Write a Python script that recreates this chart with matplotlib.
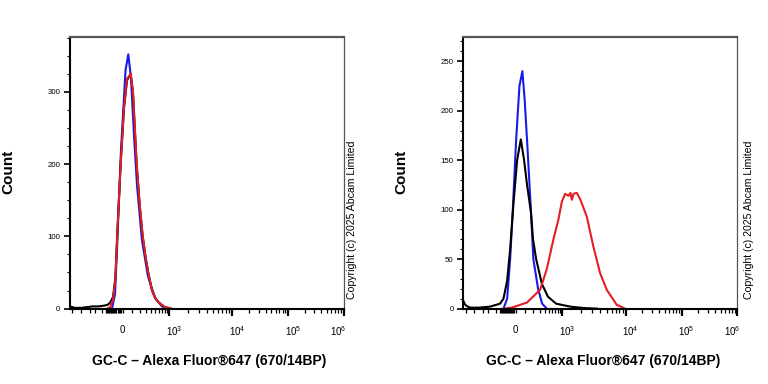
import numpy as np
import matplotlib
matplotlib.use("Agg")
import matplotlib.pyplot as plt
from matplotlib.ticker import FixedLocator, MultipleLocator
from matplotlib.transforms import ScaledTranslation

plt.rcParams['font.family'] = ['Liberation Sans', 'DejaVu Sans']
plt.rcParams['mathtext.fontset'] = 'custom'
plt.rcParams['mathtext.rm'] = 'Liberation Sans'
plt.rcParams['mathtext.it'] = 'Liberation Sans'

# ---- data (fluorescence intensity vs count) ----
# left panel
left_blue_x = [-92, -63, -40, -9, 35, 63, 91, 125, 162, 229, 330, 486, 700, 948]
left_blue_y = [0, 20, 100, 220, 330, 352, 320, 240, 170, 95, 45, 15, 3, 0]
left_black_x = [-1000, -800, -600, -450, -350, -250, -180, -140, -111, -82, -60, -40, -12,
                20, 50, 88, 113, 157, 200, 241, 290, 336, 414, 500, 600, 815, 1080]
left_black_y = [3, 1, 1, 2, 3, 3, 4, 5, 8, 16, 42, 112, 200,
                278, 316, 325, 300, 200, 140, 100, 70, 50, 25, 14, 8, 2, 0]
left_red_x = [-140, -111, -82, -60, -40, -12, 20, 50, 88, 113, 157, 200, 241, 290, 336,
              414, 500, 600, 815, 1080]
left_red_y = [0, 2, 12, 40, 110, 200, 280, 318, 325, 300, 200, 140, 100, 70, 50,
              25, 14, 8, 2, 0]

# right panel
right_blue_x = [-111, -75, -47, -23, 7, 40, 70, 95, 121, 167, 200, 272, 345, 446]
right_blue_y = [0, 10, 50, 100, 170, 225, 240, 210, 170, 100, 50, 20, 5, 0]
right_black_x = [-1000, -950, -880, -740, -480, -275, -147, -111, -75, -47, -18, 17, 54,
                 88, 121, 167, 196, 241, 340, 475, 725, 1330, 2280, 3500]
right_black_y = [8, 5, 3, 1, 1, 2, 5, 10, 28, 60, 105, 150, 171,
                 150, 125, 98, 70, 50, 25, 12, 5, 2, 0.5, 0]
right_red_x = [-100, -32, 118, 307, 446, 632, 815, 968, 1104, 1248, 1340, 1412, 1500,
               1690, 1906, 2440, 3090, 3950, 5040, 7220, 9770]
right_red_y = [0, 1, 6, 19, 40, 70, 90, 108, 116, 114, 117, 110, 116,
               117, 111, 93, 63, 36, 19, 4, 0]

decade_ticks = [0, 1e3, 1e4, 1e5, 1e6]
decade_labels = ['0', r'$10^{3}$', r'$10^{4}$', r'$10^{5}$', r'$10^{6}$']

xlabel = "GC-C \u2013 Alexa Fluor\u00ae647 (670/14BP)"
copyright_txt = "Copyright (c) 2025 Abcam Limited"

# ---- biexponential-like display scale ----
ANCH = np.array([-1e5, -1000, 0, 1000, 1e4, 1e5, 1e6, 1e9])
POS = np.array([-103, 0, 52, 99, 162, 218, 273.5, 440])
G = np.arcsinh(ANCH / 200.0)


def fwd(x):
    return np.interp(np.arcsinh(np.asarray(x, dtype=float) / 200.0), G, POS)


def inv(p):
    return 200.0 * np.sinh(np.interp(np.asarray(p, dtype=float), POS, G))


fig = plt.figure(figsize=(7.68, 3.84), dpi=100)
ax1 = fig.add_axes([70 / 768, 1 - 309.3 / 384, 273.5 / 768, 272.3 / 384])
ax2 = fig.add_axes([463.3 / 768, 1 - 309.3 / 384, 274 / 768, 272.3 / 384])

BLUE, RED = '#1a1ae6', '#e31e24'

ax1.plot(left_blue_x, left_blue_y, color=BLUE, lw=1.5)
ax1.plot(left_black_x, left_black_y, color='black', lw=1.5)
ax1.plot(left_red_x, left_red_y, color=RED, lw=1.5)
ax1.set_ylim(-1, 376)
ax1.yaxis.set_major_locator(MultipleLocator(100))
ax1.yaxis.set_minor_locator(MultipleLocator(25))

ax2.plot(right_blue_x, right_blue_y, color=BLUE, lw=1.5)
ax2.plot(right_black_x, right_black_y, color='black', lw=1.5)
ax2.plot(right_red_x, right_red_y, color=RED, lw=1.5)
ax2.set_ylim(-0.7, 274.5)
ax2.yaxis.set_major_locator(MultipleLocator(50))
ax2.yaxis.set_minor_locator(MultipleLocator(10))

minor_x = ([-900, -600, -400, -300, -200] + list(range(-150, 11, 10)) +
           [100, 200, 300, 400, 500, 600, 700, 800, 900])
for d in [1e3, 1e4, 1e5]:
    minor_x += [d * k for k in range(2, 10)]

for ax, cx in [(ax1, 352), (ax2, 749)]:
    ax.set_xscale('function', functions=(fwd, inv))
    ax.set_xlim(-1000, 1e6)
    ax.xaxis.set_major_locator(FixedLocator(decade_ticks))
    ax.xaxis.set_minor_locator(FixedLocator(minor_x))
    ax.set_xticklabels(decade_labels)
    ax.tick_params(axis='x', which='major', direction='out', length=5, width=1.6,
                   labelsize=7, pad=6)
    ax.tick_params(axis='x', which='minor', direction='out', length=3, width=0.9)
    ax.tick_params(axis='y', which='major', direction='out', length=4, width=1.2,
                   labelsize=5.7, pad=3)
    ax.tick_params(axis='y', which='minor', direction='out', length=2.5, width=0.8)
    ax.xaxis.get_major_ticks()[0].tick1line.set_visible(False)
    for i, lab in enumerate(ax.get_xticklabels()):
        if i == 0:
            continue
        dx = -5 if i == 4 else 5
        lab.set_transform(lab.get_transform() + ScaledTranslation(dx / 100, 0, fig.dpi_scale_trans))
    for s in ['left', 'bottom']:
        ax.spines[s].set_linewidth(1.5)
        ax.spines[s].set_color('black')
    ax.spines['top'].set_color('#555555')
    ax.spines['top'].set_linewidth(1.6)
    ax.spines['right'].set_color('#555555')
    ax.spines['right'].set_linewidth(0.9)
    fig.text(cx / 768, 1 - 220 / 384, copyright_txt, rotation=90, fontsize=7.6,
             ha='center', va='center')

fig.text(8 / 768, 1 - 172 / 384, "Count", rotation=90, fontsize=11, fontweight='bold',
         ha='center', va='center')
fig.text(401 / 768, 1 - 172 / 384, "Count", rotation=90, fontsize=11, fontweight='bold',
         ha='center', va='center')
fig.text(209 / 768, 1 - 361 / 384, xlabel, fontsize=10, fontweight='bold',
         ha='center', va='center')
fig.text(603 / 768, 1 - 361 / 384, xlabel, fontsize=10, fontweight='bold',
         ha='center', va='center')

fig.savefig("out.png", dpi=100, facecolor='white')
